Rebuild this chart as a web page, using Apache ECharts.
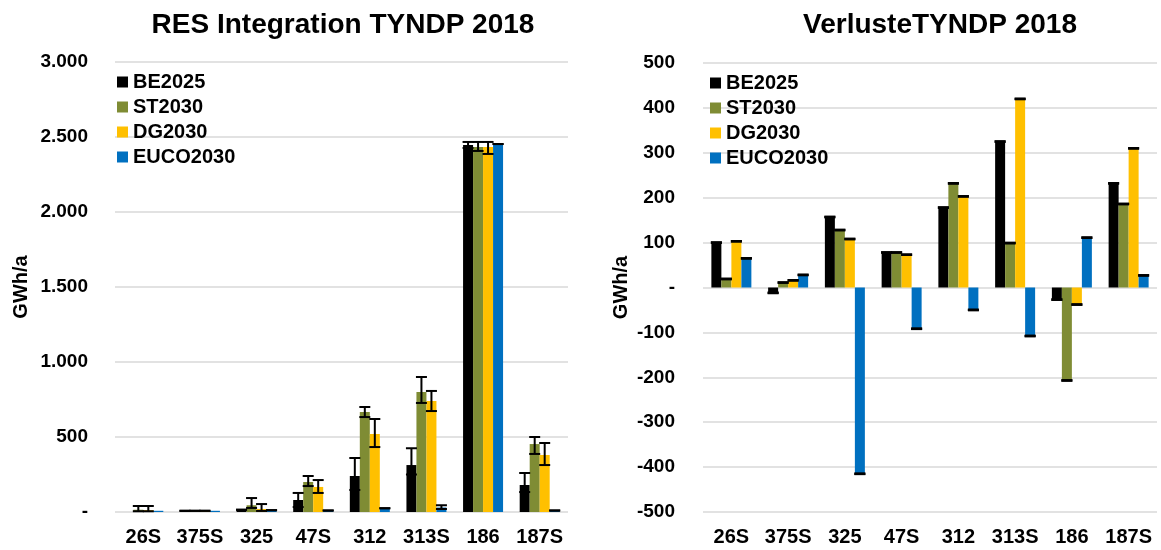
<!DOCTYPE html>
<html>
<head>
<meta charset="utf-8">
<script src="https://cdn.jsdelivr.net/npm/echarts@6/dist/echarts.min.js"></script>
<style>
  html, body { margin: 0; padding: 0; background: #ffffff; }
  #chart { width: 1161px; height: 550px; }
</style>
</head>
<body>
<div id="chart"></div>
<script>
// Categories (grid nodes)
const categories = ['26S', '375S', '325', '47S', '312', '313S', '186', '187S'];
const scenarios = ['BE2025', 'ST2030', 'DG2030', 'EUCO2030'];

// RES integration (GWh/a) per scenario
const resBE2025   = [0, 8, 15, 80, 240, 313, 2447, 180];
const resST2030   = [15, 8, 45, 200, 667, 800, 2433, 453];
const resDG2030   = [12, 8, 20, 167, 520, 740, 2433, 380];
const resEUCO2030 = [8, 8, 12, 10, 25, 30, 2453, 10];

// RES integration ranges (low / high) per scenario, null = no whisker
const resBE2025Low    = [null, 8, 15, 33, 147, 250, 2427, 133];
const resBE2025High   = [null, 8, 15, 127, 360, 425, 2467, 260];
const resST2030Low    = [5, 8, 27, 173, 633, 727, 2407, 387];
const resST2030High   = [40, 8, 93, 240, 700, 900, 2467, 500];
const resDG2030Low    = [5, 8, 7, 127, 433, 673, 2387, 313];
const resDG2030High   = [40, 8, 53, 213, 620, 807, 2467, 460];
const resEUCO2030Low  = [null, null, 12, 10, 25, 20, 2453, 10];
const resEUCO2030High = [null, null, 12, 10, 25, 45, 2453, 10];

// Losses (GWh/a) per scenario
const lossBE2025   = [100, -12, 157, 78, 178, 325, -27, 232];
const lossST2030   = [19, 11, 128, 78, 232, 99, -207, 186];
const lossDG2030   = [103, 16, 108, 73, 203, 420, -38, 310];
const lossEUCO2030 = [65, 28, -415, -92, -50, -108, 111, 27];

// Tick labels
const resTickLabels  = ['-', '500', '1.000', '1.500', '2.000', '2.500', '3.000'];
const lossTickLabels = ['-500', '-400', '-300', '-200', '-100', '-', '100', '200', '300', '400', '500'];

const colors = ['#000000', '#7F8C34', '#FFC000', '#0070C0'];
const FONT = "'Liberation Sans', Arial, sans-serif";
const BAR_W = 10;
const CAP_W = 11;

const resValues = [resBE2025, resST2030, resDG2030, resEUCO2030];
const resLow = [resBE2025Low, resST2030Low, resDG2030Low, resEUCO2030Low];
const resHigh = [resBE2025High, resST2030High, resDG2030High, resEUCO2030High];
const lossValues = [lossBE2025, lossST2030, lossDG2030, lossEUCO2030];

// Whisker / cap drawn at the slot of scenario `slot` inside its category group
function whiskerRenderer(slot, lineWidth) {
  return function (params, api) {
    const cat = api.value(0);
    const pLo = api.coord([cat, api.value(1)]);
    const pHi = api.coord([cat, api.value(2)]);
    const x = pLo[0] + (slot - 1.5) * BAR_W;
    const hw = CAP_W / 2;
    const style = { stroke: '#000000', lineWidth: lineWidth };
    const children = [
      { type: 'line', shape: { x1: x - hw, y1: pHi[1], x2: x + hw, y2: pHi[1] }, style: style },
      { type: 'line', shape: { x1: x - hw, y1: pLo[1], x2: x + hw, y2: pLo[1] }, style: style }
    ];
    if (Math.abs(pHi[1] - pLo[1]) > 0.5) {
      children.push({ type: 'line', shape: { x1: x, y1: pLo[1], x2: x, y2: pHi[1] }, style: style });
    }
    return { type: 'group', children: children };
  };
}

const series = [];
scenarios.forEach(function (name, k) {
  series.push({
    name: name, type: 'bar', xAxisIndex: 0, yAxisIndex: 0,
    data: resValues[k], barWidth: BAR_W, barGap: '0%',
    itemStyle: { color: colors[k] }, z: 2
  });
});
scenarios.forEach(function (name, k) {
  series.push({
    name: name, type: 'bar', xAxisIndex: 1, yAxisIndex: 1,
    data: lossValues[k], barWidth: BAR_W, barGap: '0%',
    itemStyle: { color: colors[k] }, z: 2
  });
});
scenarios.forEach(function (name, k) {
  const d = [];
  categories.forEach(function (c, i) {
    if (resLow[k][i] !== null) d.push([i, resLow[k][i], resHigh[k][i]]);
  });
  series.push({
    type: 'custom', xAxisIndex: 0, yAxisIndex: 0, z: 5, silent: true,
    renderItem: whiskerRenderer(k, 2), encode: { x: 0, y: [1, 2] }, data: d
  });
});
scenarios.forEach(function (name, k) {
  const d = lossValues[k].map(function (v, i) { return [i, v, v]; });
  series.push({
    type: 'custom', xAxisIndex: 1, yAxisIndex: 1, z: 5, silent: true,
    renderItem: whiskerRenderer(k, 2.5), encode: { x: 0, y: [1, 2] }, data: d
  });
});

const catAxis = function (gridIndex) {
  return {
    type: 'category', gridIndex: gridIndex, data: categories,
    axisLine: { show: false, onZero: false }, axisTick: { show: false },
    axisLabel: { interval: 0, hideOverlap: false, color: '#000', fontFamily: FONT, fontWeight: 'bold', fontSize: 20, margin: 15 }
  };
};

const valAxis = function (gridIndex, min, max, interval, labels, nameGap, margin) {
  return {
    type: 'value', gridIndex: gridIndex, min: min, max: max, interval: interval,
    name: 'GWh/a', nameLocation: 'middle', nameGap: nameGap, nameRotate: 90,
    nameTextStyle: { color: '#000', fontFamily: FONT, fontWeight: 'bold', fontSize: 20 },
    axisLine: { show: false }, axisTick: { show: false },
    axisLabel: {
      color: '#000', fontFamily: FONT, fontWeight: 'bold', fontSize: 19, margin: margin,
      formatter: function (v) { return labels[Math.round((v - min) / interval)]; }
    },
    splitLine: { show: true, lineStyle: { color: '#D9D9D9', width: 1.5 } }
  };
};

const legendBase = {
  orient: 'vertical', data: scenarios, icon: 'rect', itemWidth: 11, itemHeight: 11,
  itemGap: 5, selectedMode: false,
  textStyle: { color: '#000', fontFamily: FONT, fontWeight: 'bold', fontSize: 20, lineHeight: 20, padding: [0, 0, 0, 0] }
};

const chart = echarts.init(document.getElementById('chart'), null, { renderer: 'canvas' });
chart.setOption({
  animation: false,
  color: colors,
  title: [
    { text: 'RES Integration TYNDP 2018', left: 338, top: 6, textAlign: 'center',
      textStyle: { color: '#000', fontFamily: FONT, fontWeight: 'bold', fontSize: 28 } },
    { text: 'VerlusteTYNDP 2018', left: 935, top: 6, textAlign: 'center',
      textStyle: { color: '#000', fontFamily: FONT, fontWeight: 'bold', fontSize: 28 } }
  ],
  legend: [
    Object.assign({}, legendBase, { left: 112, top: 67 }),
    Object.assign({}, legendBase, { left: 705, top: 68 })
  ],
  grid: [
    { left: 115, right: 593, top: 62, bottom: 38 },
    { left: 703, right: 4, top: 63, bottom: 38 }
  ],
  xAxis: [catAxis(0), catAxis(1)],
  yAxis: [
    valAxis(0, 0, 3000, 500, resTickLabels, 84, 27),
    valAxis(1, -500, 500, 100, lossTickLabels, 72, 28)
  ],
  series: series
});
</script>
</body>
</html>
